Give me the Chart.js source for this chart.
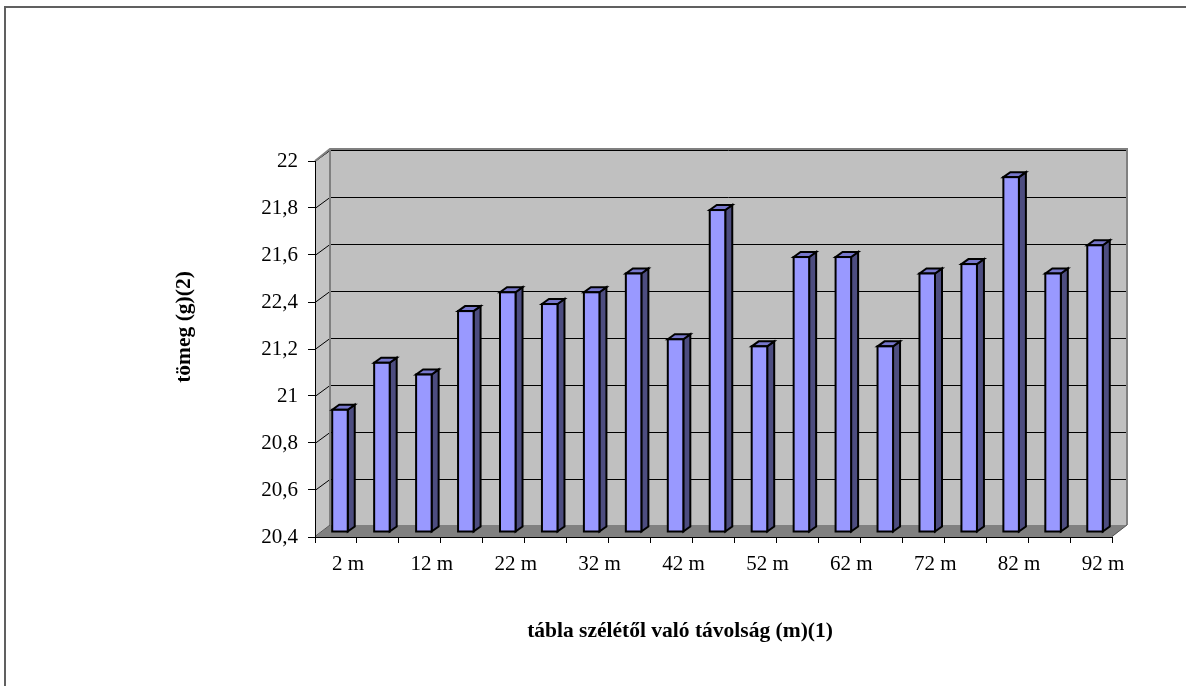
<!DOCTYPE html>
<html>
<head>
<meta charset="utf-8">
<title>tömeg</title>
<script src="https://cdn.jsdelivr.net/npm/chart.js@4/dist/chart.umd.min.js"></script>
<style>
    html, body { margin: 0; padding: 0; background: #ffffff; }
    #massChart { display: block; }
</style>
</head>
<body>
<canvas id="massChart" width="1186" height="686"></canvas>
<script>
const distances = ['2 m', '7 m', '12 m', '17 m', '22 m', '27 m', '32 m', '37 m', '42 m', '47 m',
    '52 m', '57 m', '62 m', '67 m', '72 m', '77 m', '82 m', '87 m', '92 m'];
const massValues = [20.92, 21.12, 21.07, 21.34, 21.42, 21.37, 21.42, 21.50, 21.22, 21.77,
    21.19, 21.57, 21.57, 21.19, 21.50, 21.54, 21.91, 21.50, 21.62];
const yTickValues = [20.4, 20.6, 20.8, 21, 21.2, 21.4, 21.6, 21.8, 22];
const yTickLabels = ['20,4', '20,6', '20,8', '21', '21,2', '22,4', '21,6', '21,8', '22'];

const xTitle = 'tábla szélétől való távolság (m)(1)';
const yTitle = 'tömeg (g)(2)';

const FONT = "'Liberation Serif', 'Times New Roman', serif";

// depth of the box (back wall offset) and of each column
const wallDx = 15, wallDy = -12;
const barShiftX = 4, barShiftY = -5;
const barDx = 7, barDy = -5;

const boxPlugin = {
    id: 'box3d',
    beforeDraw(chart) {
        const ctx = chart.ctx;
        const { left, right, top, bottom } = chart.chartArea;
        const y = chart.scales.y;

        ctx.save();
        // frame of the whole picture
        ctx.strokeStyle = '#606060';
        ctx.lineWidth = 2;
        ctx.beginPath();
        ctx.moveTo(5, chart.height + 10);
        ctx.lineTo(5, 7);
        ctx.lineTo(chart.width + 10, 7);
        ctx.stroke();

        // back wall
        ctx.fillStyle = '#c0c0c0';
        ctx.fillRect(left + wallDx, top + wallDy, right - left, bottom - top);
        // side wall
        ctx.fillStyle = '#c4c4c4';
        ctx.beginPath();
        ctx.moveTo(left, top);
        ctx.lineTo(left + wallDx, top + wallDy);
        ctx.lineTo(left + wallDx, bottom + wallDy);
        ctx.lineTo(left, bottom);
        ctx.closePath();
        ctx.fill();
        // floor
        ctx.fillStyle = '#808080';
        ctx.beginPath();
        ctx.moveTo(left, bottom);
        ctx.lineTo(left + wallDx, bottom + wallDy);
        ctx.lineTo(right + wallDx, bottom + wallDy);
        ctx.lineTo(right, bottom);
        ctx.closePath();
        ctx.fill();

        // grid lines on the back and side walls
        ctx.strokeStyle = '#000000';
        ctx.lineWidth = 1;
        yTickValues.forEach(v => {
            const py = Math.round(y.getPixelForValue(v)) + 0.5;
            if (v === yTickValues[0]) return;
            ctx.beginPath();
            ctx.moveTo(left, py);
            ctx.lineTo(left + wallDx, py + wallDy + 1);
            ctx.lineTo(right + wallDx, py + wallDy + 1);
            ctx.stroke();
        });

        // wall edges
        ctx.strokeStyle = '#808080';
        ctx.lineWidth = 2;
        ctx.beginPath();
        ctx.moveTo(left, top);
        ctx.lineTo(left + wallDx, top + wallDy);
        ctx.lineTo(right + wallDx, top + wallDy);
        ctx.lineTo(right + wallDx, bottom + wallDy);
        ctx.moveTo(left + wallDx, top + wallDy);
        ctx.lineTo(left + wallDx, bottom + wallDy);
        ctx.stroke();
        ctx.strokeStyle = '#555555';
        ctx.lineWidth = 1;
        ctx.beginPath();
        ctx.moveTo(left, bottom - 0.5);
        ctx.lineTo(left + wallDx, bottom + wallDy);
        ctx.moveTo(right, bottom - 0.5);
        ctx.lineTo(right + wallDx, bottom + wallDy);
        ctx.stroke();
        ctx.restore();
    },
    afterDatasetsDraw(chart) {
        const ctx = chart.ctx;
        const meta = chart.getDatasetMeta(0);
        ctx.save();
        ctx.lineWidth = 2;
        ctx.strokeStyle = '#000000';
        ctx.lineJoin = 'miter';
        meta.data.forEach(bar => {
            const { x, y, base, width } = bar.getProps(['x', 'y', 'base', 'width'], true);
            const x0 = x - width / 2 + barShiftX;
            const x1 = x + width / 2 + barShiftX;
            const yt = y + barShiftY;
            const yb = base + barShiftY;

            // side face
            ctx.fillStyle = '#4d4d80';
            ctx.beginPath();
            ctx.moveTo(x1, yb);
            ctx.lineTo(x1 + barDx, yb + barDy);
            ctx.lineTo(x1 + barDx, yt + barDy);
            ctx.lineTo(x1, yt);
            ctx.closePath();
            ctx.fill();
            ctx.stroke();

            // top face
            ctx.fillStyle = '#7777cc';
            ctx.beginPath();
            ctx.moveTo(x0, yt);
            ctx.lineTo(x0 + barDx, yt + barDy);
            ctx.lineTo(x1 + barDx, yt + barDy);
            ctx.lineTo(x1, yt);
            ctx.closePath();
            ctx.fill();
            ctx.stroke();

            // front face
            ctx.fillStyle = '#9999ff';
            ctx.fillRect(x0, yt, x1 - x0, yb - yt);
            ctx.strokeRect(x0, yt, x1 - x0, yb - yt);
        });
        ctx.restore();
    },
    afterDraw(chart) {
        const ctx = chart.ctx;
        ctx.save();
        ctx.fillStyle = '#000000';
        ctx.font = 'bold 21.5px ' + FONT;
        ctx.textAlign = 'center';
        ctx.textBaseline = 'middle';
        ctx.fillText(xTitle, 680, 631);
        ctx.translate(184, 327);
        ctx.rotate(-Math.PI / 2);
        ctx.fillText(yTitle, 0, 0);
        ctx.restore();
    }
};

new Chart(document.getElementById('massChart'), {
    type: 'bar',
    data: {
        labels: distances,
        datasets: [{
            data: massValues,
            base: 20.4,
            backgroundColor: 'rgba(0,0,0,0)',
            borderWidth: 0,
            barPercentage: 0.37,
            categoryPercentage: 1
        }]
    },
    options: {
        responsive: false,
        animation: false,
        events: [],
        layout: { padding: { left: 0, top: 161, right: 74, bottom: 0 } },
        plugins: {
            legend: { display: false },
            tooltip: { enabled: false }
        },
        scales: {
            x: {
                afterFit(scale) { scale.height = 149; },
                grid: { drawOnChartArea: false, drawTicks: true, tickLength: 6, color: '#000000', offset: true },
                border: { display: true, color: '#000000', width: 1 },
                ticks: {
                    autoSkip: false,
                    maxRotation: 0,
                    padding: 9,
                    labelOffset: 12,
                    color: '#000000',
                    font: { family: FONT, size: 21 },
                    callback: (value, index) => index % 2 === 0 ? distances[index] : ''
                }
            },
            y: {
                min: 20.4,
                max: 22,
                afterFit(scale) { scale.width = 315; },
                afterBuildTicks(scale) { scale.ticks = yTickValues.map(v => ({ value: v })); },
                grid: { drawOnChartArea: false, drawTicks: true, tickLength: 7, color: '#000000' },
                border: { display: true, color: '#000000', width: 1 },
                ticks: {
                    padding: 10,
                    color: '#000000',
                    font: { family: FONT, size: 21 },
                    callback: (value, index) => yTickLabels[index]
                }
            }
        }
    },
    plugins: [boxPlugin]
});
</script>
</body>
</html>
